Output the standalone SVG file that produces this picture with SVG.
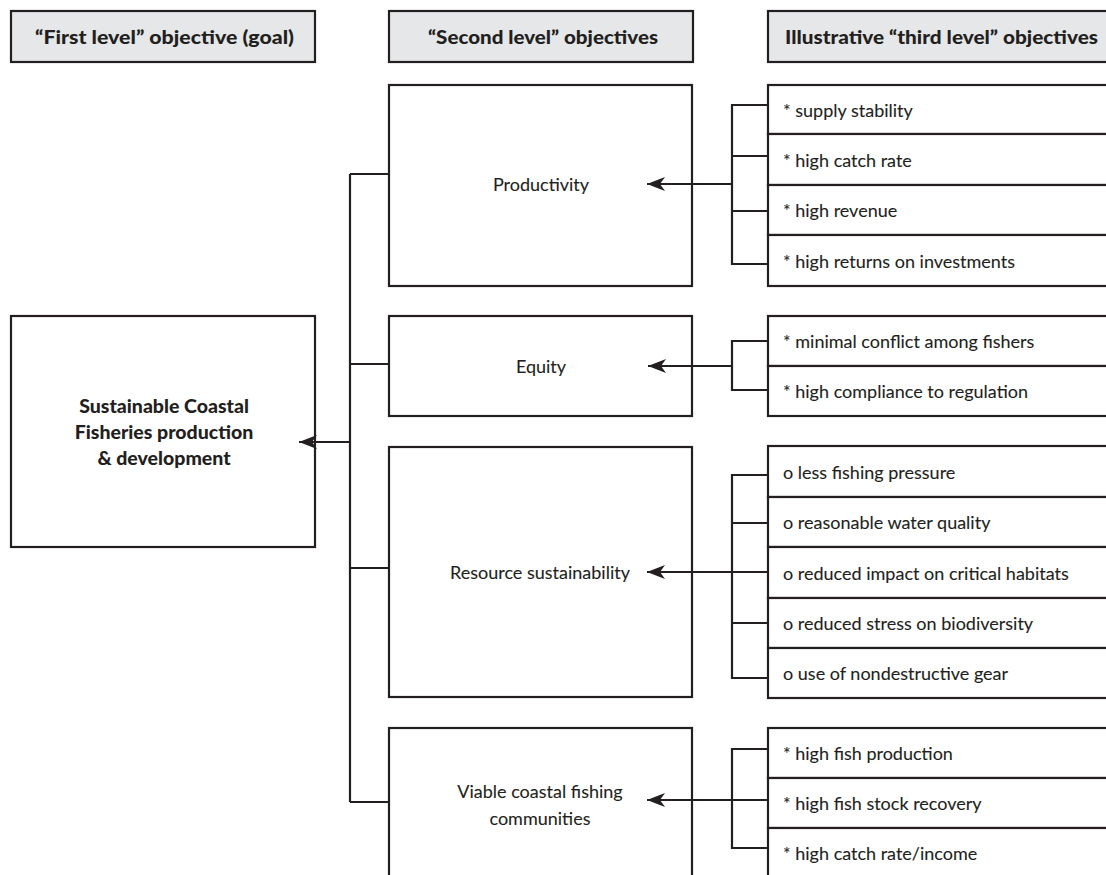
<svg xmlns="http://www.w3.org/2000/svg" width="1106" height="875" viewBox="0 0 1106 875">
<defs>
<marker id="ah" markerUnits="userSpaceOnUse" markerWidth="20" markerHeight="16" refX="18" refY="7" orient="auto">
<path d="M0,0 L18,7 L0,14 L5,7 Z" fill="#231f20"/>
</marker>
<style>
.box{fill:#fff;stroke:#231f20;stroke-width:2.2}
.hdr{fill:#e6e7e8;stroke:#231f20;stroke-width:2.2}
.ln{fill:none;stroke:#231f20;stroke-width:2.2}
.ht{font-family:Lato,"Liberation Sans",sans-serif;font-weight:900;font-size:18px;fill:#231f20}
.gt{font-family:Lato,"Liberation Sans",sans-serif;font-weight:900;font-size:19.5px;fill:#231f20;text-anchor:middle}
.t{font-family:Lato,"Liberation Sans",sans-serif;font-size:18px;fill:#231f20;stroke:#231f20;stroke-width:0.1}
.c{text-anchor:middle}
</style>
</defs>
<rect width="1106" height="875" fill="#fff"/>

<g id="header1"><rect class="hdr" x="11" y="11" width="304" height="51"/><text class="ht" x="35" y="44" textLength="259" lengthAdjust="spacingAndGlyphs">“First level” objective (goal)</text></g>
<g id="header2"><rect class="hdr" x="389" y="11" width="304" height="51"/><text class="ht" x="428" y="44" textLength="230" lengthAdjust="spacingAndGlyphs">“Second level” objectives</text></g>
<g id="header3"><rect class="hdr" x="768" y="11" width="350" height="51"/><text class="ht" x="785" y="44" textLength="313" lengthAdjust="spacingAndGlyphs">Illustrative “third level” objectives</text></g>

<g id="goal"><rect class="box" x="11" y="316" width="304" height="231"/>
<text class="gt" x="164" y="413">Sustainable Coastal</text>
<text class="gt" x="164" y="439">Fisheries production</text>
<text class="gt" x="164" y="465">&amp; development</text></g>

<g id="productivity"><rect class="box" x="389" y="85" width="303" height="201"/><text class="t c" x="541" y="191">Productivity</text></g>
<g id="equity"><rect class="box" x="389" y="316" width="303" height="100"/><text class="t c" x="541" y="373">Equity</text></g>
<g id="resource"><rect class="box" x="389" y="447" width="303" height="250"/><text class="t c" x="540" y="579">Resource sustainability</text></g>
<g id="viable"><rect class="box" x="389" y="728" width="303" height="160"/><text class="t c" x="540" y="798">Viable coastal fishing</text><text class="t c" x="540" y="825">communities</text></g>

<g id="prod-third">
<rect class="box" x="768" y="85" width="350" height="49"/><text class="t" x="783" y="117">* supply stability</text>
<rect class="box" x="768" y="134" width="350" height="51"/><text class="t" x="783" y="167">* high catch rate</text>
<rect class="box" x="768" y="185" width="350" height="50"/><text class="t" x="783" y="217">* high revenue</text>
<rect class="box" x="768" y="235" width="350" height="51"/><text class="t" x="783" y="268">* high returns on investments</text>
</g>
<g id="equity-third">
<rect class="box" x="768" y="316" width="350" height="50"/><text class="t" x="783" y="348">* minimal conflict among fishers</text>
<rect class="box" x="768" y="366" width="350" height="50"/><text class="t" x="783" y="398">* high compliance to regulation</text>
</g>
<g id="resource-third">
<rect class="box" x="768" y="446" width="350" height="51"/><text class="t" x="783" y="479">o less fishing pressure</text>
<rect class="box" x="768" y="497" width="350" height="50"/><text class="t" x="783" y="529">o reasonable water quality</text>
<rect class="box" x="768" y="547" width="350" height="51"/><text class="t" x="783" y="580">o reduced impact on critical habitats</text>
<rect class="box" x="768" y="598" width="350" height="50"/><text class="t" x="783" y="630">o reduced stress on biodiversity</text>
<rect class="box" x="768" y="648" width="350" height="50"/><text class="t" x="783" y="680">o use of nondestructive gear</text>
</g>
<g id="viable-third">
<rect class="box" x="768" y="728" width="350" height="50"/><text class="t" x="783" y="760">* high fish production</text>
<rect class="box" x="768" y="778" width="350" height="50"/><text class="t" x="783" y="810">* high fish stock recovery</text>
<rect class="box" x="768" y="828" width="350" height="60"/><text class="t" x="783" y="860">* high catch rate/income</text>
</g>

<g id="connectors">
<path class="ln" d="M350,174 V802 M350,174 H389 M350,364 H389 M350,568 H389 M350,802 H389"/>
<line class="ln" x1="350" y1="442" x2="299" y2="442" marker-end="url(#ah)"/>
<path class="ln" d="M767,105 H732 V264 H767 M732,156 H767 M732,211 H767"/>
<line class="ln" x1="732" y1="184" x2="647" y2="184" marker-end="url(#ah)"/>
<path class="ln" d="M767,341 H732 V390 H767"/>
<line class="ln" x1="732" y1="366" x2="648" y2="366" marker-end="url(#ah)"/>
<path class="ln" d="M767,475 H732 V678 H767 M732,523 H767 M732,572 H767 M732,623 H767"/>
<line class="ln" x1="732" y1="572" x2="647" y2="572" marker-end="url(#ah)"/>
<path class="ln" d="M767,749 H732 V848 H767 M732,800 H767"/>
<line class="ln" x1="732" y1="800" x2="647" y2="800" marker-end="url(#ah)"/>
</g>
</svg>
